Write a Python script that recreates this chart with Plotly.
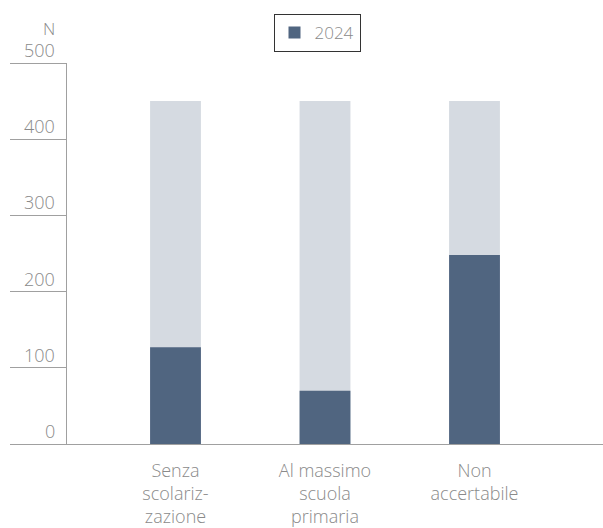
import plotly.graph_objects as go

categories = ["Senza<br>scolariz-<br>zazione", "Al massimo<br>scuola<br>primaria", "Non<br>accertabile"]
values_2024 = [127, 70, 248]
background = [450, 450, 450]
y_ticks = [0, 100, 200, 300, 400, 500]

GREY_TEXT = "#8a8a8a"
AXIS = "#a0a0a0"
DARK = "#506580"
LIGHT = "#d5dae1"

W, H = 603, 528
L, R, T, B = 10, 0, 63, 84
plot_w = W - L - R
axis_px = 66  # where the y axis line sits


def px_to_paper_x(px):
    return (px - L) / plot_w


fig = go.Figure()

fig.add_trace(
    go.Bar(
        x=categories,
        y=background,
        width=0.34,
        marker=dict(color=LIGHT, line=dict(width=0)),
        showlegend=False,
        hoverinfo="skip",
    )
)

fig.add_trace(
    go.Bar(
        x=categories,
        y=values_2024,
        width=0.34,
        name="2024",
        marker=dict(color=DARK, line=dict(width=0)),
    )
)

# tick labels sit above the tick lines, to the left of the axis
annotations = []
for v in y_ticks:
    annotations.append(
        dict(
            x=px_to_paper_x(57),
            y=v,
            xref="paper",
            yref="y",
            text=str(v),
            showarrow=False,
            xanchor="right",
            yanchor="bottom",
            yshift=-1,
            font=dict(size=18, color=GREY_TEXT, weight=300),
        )
    )
annotations.append(
    dict(
        x=px_to_paper_x(57),
        y=1,
        xref="paper",
        yref="paper",
        text="N",
        showarrow=False,
        xanchor="right",
        yanchor="bottom",
        yshift=21,
        font=dict(size=17, color=GREY_TEXT, weight=300),
    )
)

fig.update_layout(
    width=W,
    height=H,
    barmode="overlay",
    paper_bgcolor="white",
    plot_bgcolor="white",
    font=dict(family="Open Sans", color=GREY_TEXT, size=18, weight=300),
    margin=dict(l=L, r=R, t=T, b=B, pad=0, autoexpand=False),
    annotations=annotations,
    showlegend=True,
    legend=dict(
        x=px_to_paper_x(317),
        xanchor="center",
        y=1 + (T - 14) / (H - T - B),
        yanchor="top",
        bordercolor="#333333",
        borderwidth=1,
        font=dict(size=17, color=GREY_TEXT, weight=300),
        orientation="h",
    ),
)

fig.update_xaxes(
    type="category",
    range=[(L - 175.5) / 149.5, (W - 175.5) / 149.5],
    showline=True,
    linecolor=AXIS,
    linewidth=1,
    showgrid=False,
    zeroline=False,
    ticks="",
    ticklabelstandoff=10,
    tickfont=dict(size=18, color=GREY_TEXT, weight=300),
)

fig.update_yaxes(
    range=[0, 500],
    anchor="free",
    position=px_to_paper_x(axis_px),
    showline=True,
    linecolor=AXIS,
    linewidth=1,
    ticks="outside",
    ticklen=axis_px - L,
    tickcolor=AXIS,
    tickwidth=1,
    tickvals=y_ticks,
    showticklabels=False,
    showgrid=False,
    zeroline=False,
)

# drop the default 8px body margin so the figure fills the window exactly
fig.write_html(
    "out.html",
    config={"displayModeBar": False},
    post_script="document.body.style.margin = '0';",
)
